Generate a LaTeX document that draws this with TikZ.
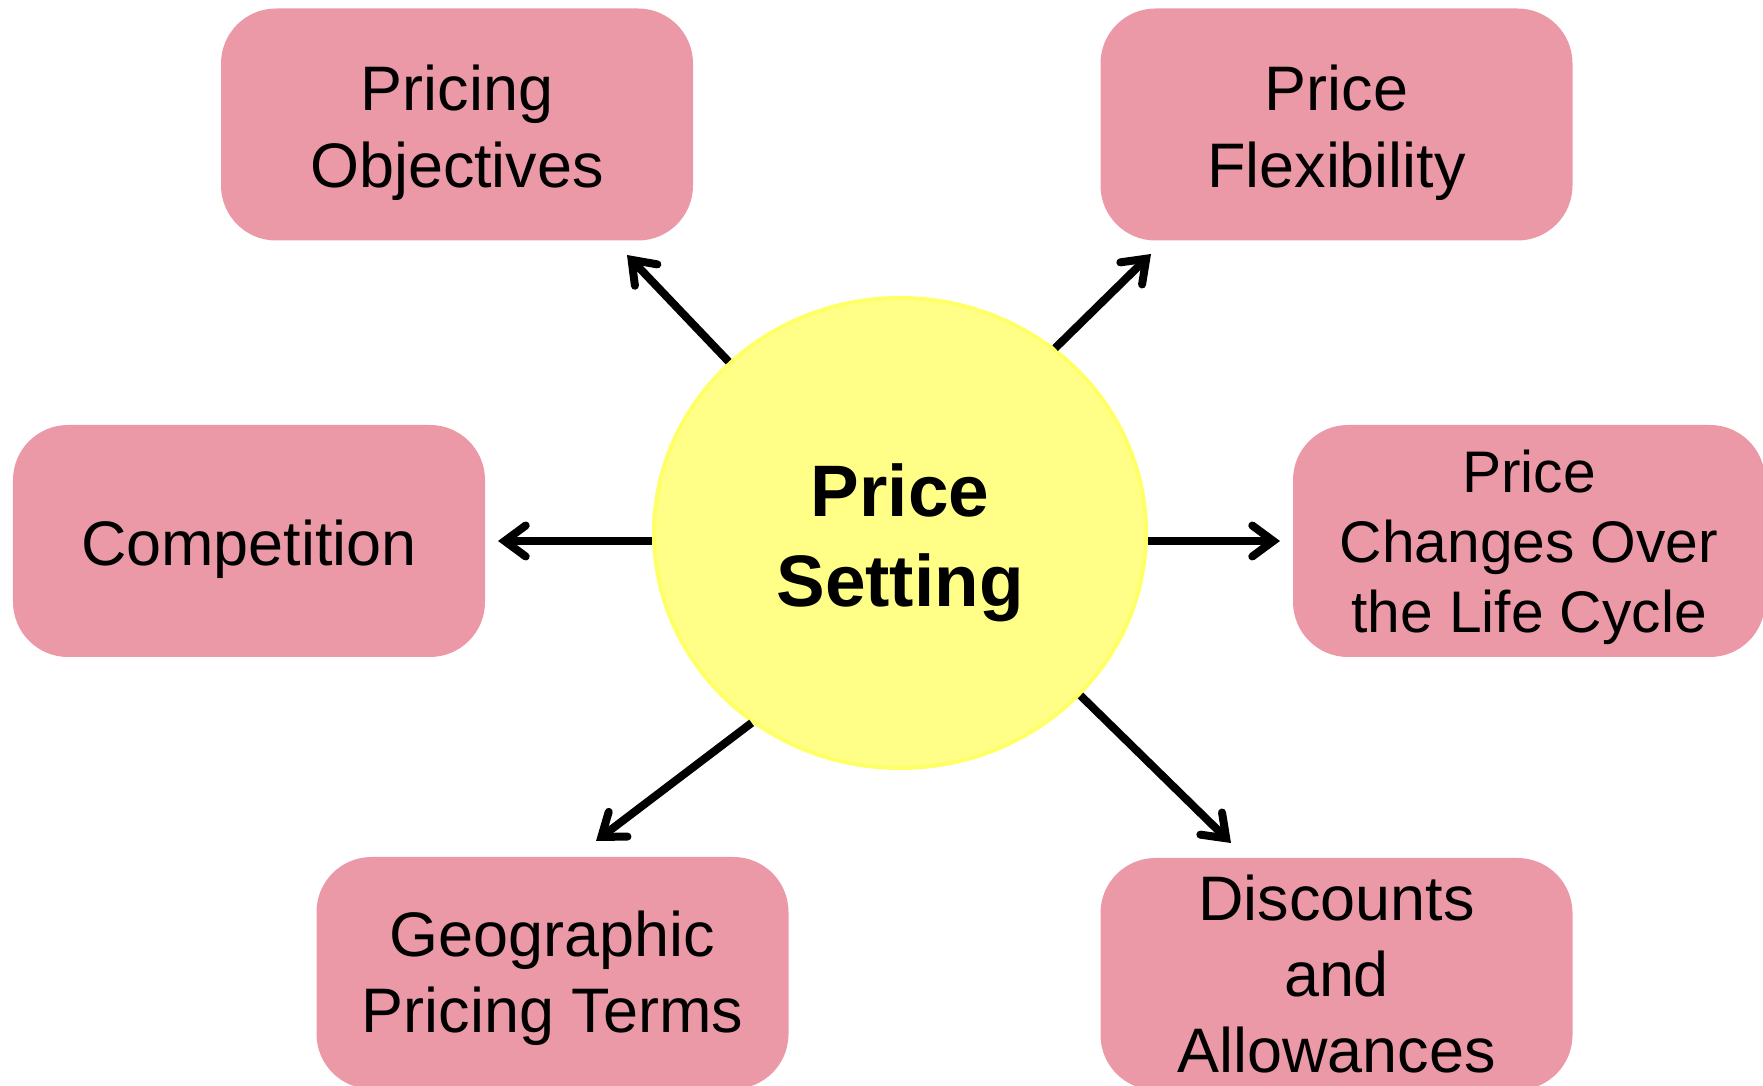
\documentclass[tikz,border=0pt]{standalone}
\usepackage{fontspec}
\setmainfont{Liberation Sans}
\usepackage{tikz}
\usetikzlibrary{arrows.meta,shapes.geometric}
\definecolor{boxpink}{RGB}{236,153,167}
\definecolor{sunfill}{RGB}{255,255,136}
\definecolor{sunline}{RGB}{255,255,102}
\tikzset{
	arr/.style={-{Straight Barb[length=0.42cm,width=0.62cm,line cap=round,line join=miter]}, line width=0.16cm},
	topic/.style={rectangle, rounded corners=1.1cm, fill=boxpink, minimum width=9.44cm, minimum height=4.64cm, align=center, inner sep=0pt, font=\fontsize{35.8}{43.5}\selectfont},
	hub/.style={ellipse, fill=sunfill, draw=sunline, line width=0.08cm, minimum width=9.84cm, minimum height=9.4cm, inner sep=0pt, align=center, font=\bfseries\fontsize{41.5}{51.2}\selectfont},
}
\begin{document}
\begin{tikzpicture}
	\useasboundingbox (0,0) rectangle (35.26,-21.72);
	
	\node[hub] (ps) at (18.0,-10.66) {\rule{0pt}{1.45cm}Price\\Setting};
	
	\node[topic] (obj) at (9.14,-2.49) {\rule{0pt}{1.24cm}Pricing\\Objectives};
	\node[topic] (flx) at (26.73,-2.49) {\rule{0pt}{1.24cm}Price\\Flexibility};
	\node[topic] (cmp) at (4.98,-10.82) {\rule{0pt}{1.24cm}Competition};
	\node[topic, font=\fontsize{33.4}{39.8}\selectfont] (chg) at (30.58,-10.82) {\rule{0pt}{1.11cm}Price\\Changes Over\\the Life Cycle};
	\node[topic] (geo) at (11.05,-19.46) {\rule{0pt}{1.12cm}Geographic\\Pricing Terms};
	\node[topic] (dsc) at (26.73,-19.48) {Discounts\\and\\Allowances};
	
	% arrow tips
	\coordinate (tobj) at (12.54,-5.10);
	\coordinate (tflx) at (23.02,-5.08);
	\coordinate (tcmp) at (9.96,-10.82);
	\coordinate (tchg) at (25.6,-10.82);
	\coordinate (tgeo) at (11.92,-16.82);
	\coordinate (tdsc) at (24.62,-16.86);
	
	\draw[arr] (ps.135) -- (tobj);
	\draw[arr] (ps.50) -- (tflx);
	\draw[arr] (ps.west |- tcmp) -- (tcmp);
	\draw[arr] (ps.east |- tchg) -- (tchg);
	\draw[arr] (ps.232) -- (tgeo);
	\draw[arr] (ps.318) -- (tdsc);
\end{tikzpicture}
\end{document}
